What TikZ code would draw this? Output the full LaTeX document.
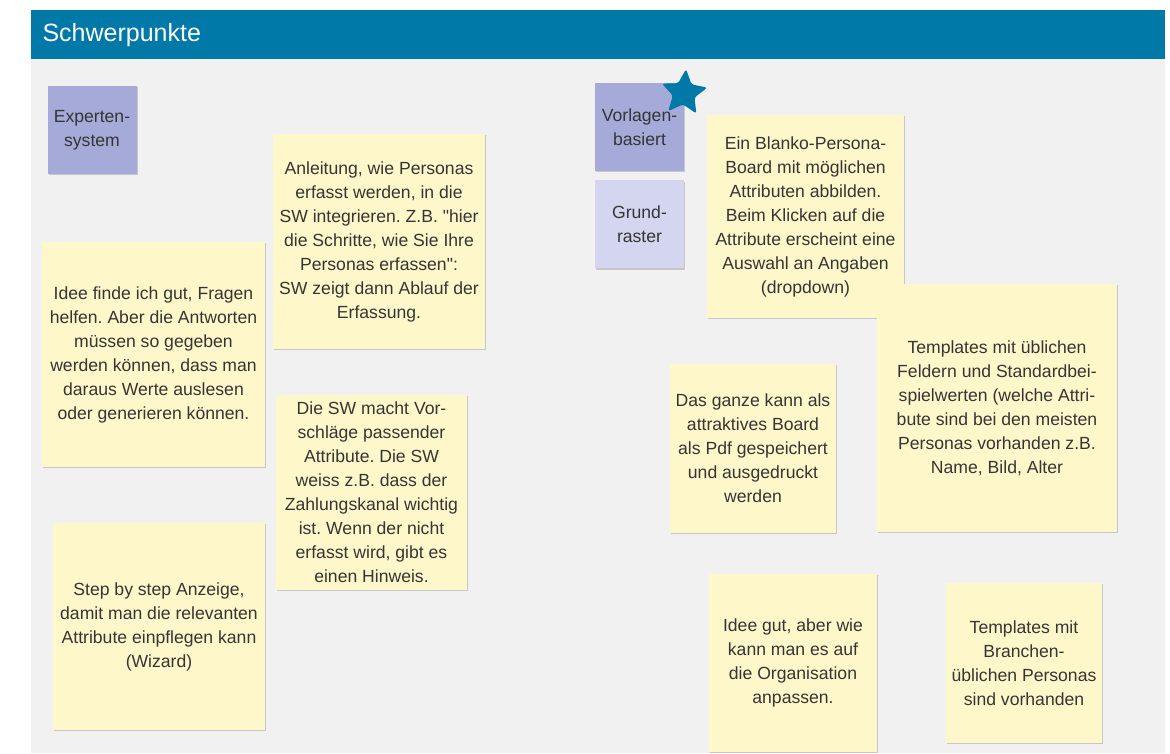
\documentclass[tikz,border=0pt]{standalone}
\usepackage{fontspec}
\setmainfont{Liberation Sans}
\usepackage{tikz}
\usetikzlibrary{positioning}
\usetikzlibrary{shapes,shadows}
\frenchspacing
\definecolor{headblue}{HTML}{0079A8}
\definecolor{boardgrey}{HTML}{F1F1F1}
\definecolor{noteyellow}{HTML}{FEF7C9}
\definecolor{notepurple}{HTML}{A5AAD8}
\definecolor{notelilac}{HTML}{D3D6EE}
\definecolor{notetext}{HTML}{353535}
\tikzset{note/.style={rectangle,fill=noteyellow,align=center,inner sep=0pt,text=notetext,font=\fontsize{17.6}{24}\selectfont,drop shadow={shadow xshift=1.2pt,shadow yshift=-1.2pt,opacity=.3,fill=black!60}},
         tag note/.style={note,fill=notepurple,minimum width=89pt,minimum height=88pt},}

\begin{document}
\begin{tikzpicture}[x=1pt,y=-1pt]
    \useasboundingbox (0,0) rectangle (1170,753);
    % board and title bar
    \fill[boardgrey] (31,59) rectangle (1165,753);
    \fill[headblue] (31,10) rectangle (1165,59);
    \node[anchor=west,text=white,font=\fontsize{25}{28}\selectfont] (title) at (39,35) {Schwerpunkte};

    % left column
    \node[tag note] (expert) at (92,130) {Experten-\\system};
    \node[note,minimum width=212pt,minimum height=215pt] (anleitung) at (379,241.5)
        {Anleitung, wie Personas\\erfasst werden, in die\\SW integrieren. Z.B. \textquotedbl hier\\die Schritte, wie Sie Ihre\\Personas erfassen\textquotedbl:\\SW zeigt dann Ablauf der\\Erfassung.};
    \node[note,minimum width=223pt,minimum height=225pt] (ideefinde) at (153.5,354.5)
        {Idee finde ich gut, Fragen\\helfen. Aber die Antworten\\müssen so gegeben\\werden können, dass man\\daraus Werte auslesen\\oder generieren können.};
    \node[note,minimum width=191pt,minimum height=195pt] (vorschlag) at (371.5,492.5)
        {Die SW macht Vor-\\schläge passender\\Attribute. Die SW\\weiss z.B. dass der\\Zahlungskanal wichtig\\ist. Wenn der nicht\\erfasst wird, gibt es\\einen Hinweis.};
    \node[note,minimum width=212pt,minimum height=207pt] (wizard) at (159,626.5)
        {Step by step Anzeige,\\damit man die relevanten\\Attribute einpflegen kann\\(Wizard)};

    % right column
    \node[tag note] (vorlagen) at (639.5,127) {Vorlagen-\\basiert};
    \node[tag note,fill=notelilac] (raster) [below = 9pt of vorlagen] {Grund-\\raster};
    \node[star,star points=5,star point ratio=2.1,minimum size=48pt,inner sep=0pt,fill=headblue,rounded corners=2.5pt,rotate=-5] (fav) at (684,93) {};
    \node[note,minimum width=197pt,minimum height=203pt] (blanko) at (805.5,216.5)
        {Ein Blanko-Persona-\\Board mit möglichen\\Attributen abbilden.\\Beim Klicken auf die\\Attribute erscheint eine\\Auswahl an Angaben\\(dropdown)};
    \node[note,minimum width=240pt,minimum height=248pt] (standard) at (997,408)
        {Templates mit üblichen\\Feldern und Standardbei-\\spielwerten (welche Attri-\\bute sind bei den meisten\\Personas vorhanden z.B.\\Name, Bild, Alter};
    \node[note,minimum width=166pt,minimum height=169pt] (board) at (753,448.5)
        {Das ganze kann als\\attraktives Board\\als Pdf gespeichert\\und ausgedruckt\\werden};
    \node[note,minimum width=168pt,minimum height=178pt] (orga) at (793,663)
        {Idee gut, aber wie\\kann man es auf\\die Organisation\\anpassen.};
    \node[note,minimum width=156pt,minimum height=160pt] (branche) at (1024,663)
        {Templates mit\\Branchen-\\üblichen Personas\\sind vorhanden};
\end{tikzpicture}
\end{document}
